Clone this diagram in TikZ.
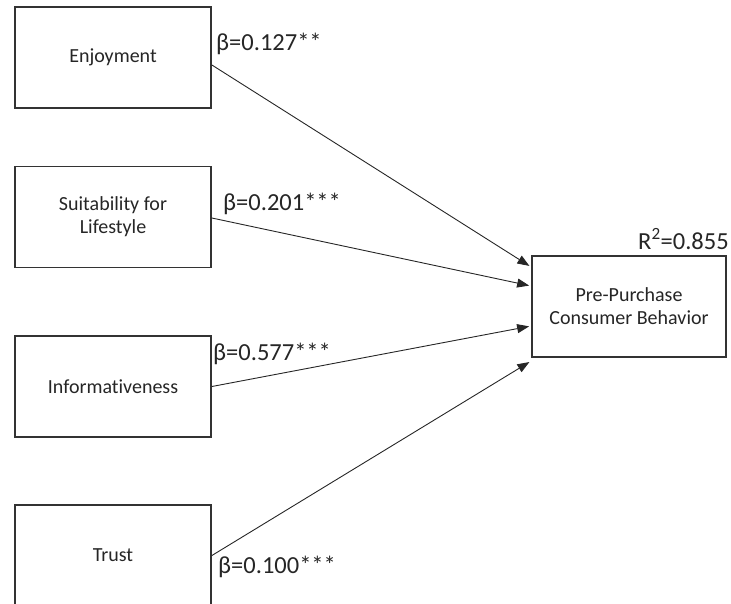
\documentclass[tikz,border=0pt]{standalone}
\usepackage{fontspec}
\setmainfont{Carlito}[Ligatures=NoCommon]
\usetikzlibrary{arrows.meta}
\definecolor{txt}{HTML}{262626}
\definecolor{edge}{HTML}{333333}
\begin{document}
\begin{tikzpicture}[x=1pt,y=-1pt,
  varbox/.style={draw=edge,line width=1.8pt,fill=white,minimum width=196pt,minimum height=101pt,
    align=center,text=txt,font=\fontsize{20}{23}\selectfont,inner sep=0pt},
  conn/.style={draw=txt,line width=0.9pt,shorten >=2pt,-{Triangle[length=12pt,width=9pt]}},
  coef/.style={text=txt,font=\fontsize{24.5}{28}\selectfont,inner sep=0pt,anchor=base west}]
\useasboundingbox (0,0) rectangle (731,603);
\node[varbox] (enj) at (113,57.5) {Enjoyment};
\node[varbox] (suit) at (113,217) {Suitability for\\Lifestyle};
\node[varbox] (info) at (113,386.5) {Informativeness};
\node[varbox] (trust) at (113,555.5) {Trust};
\node[varbox,minimum width=194pt] (ppcb) at (629,306.5) {Pre-Purchase\\Consumer Behavior};
\draw[conn] ([yshift=-7.5pt]enj.east) -- ([yshift=39.5pt]ppcb.west);
\draw[conn] ([yshift=-1pt]suit.east) -- ([yshift=20.5pt]ppcb.west);
\draw[conn] (info.east) -- ([yshift=-19.5pt]ppcb.west);
\draw[conn] (trust.east) -- ([yshift=-54.5pt]ppcb.west);
\node[coef] (l1) at (216,50) {β=0.127**};
\node[coef] (l2) at (223,210) {β=0.201***};
\node[coef] (l3) at (213,360) {β=0.577***};
\node[coef] (l4) at (218,573) {β=0.100***};
\node[coef] (r2) at (638,249) {R\textsuperscript{2}=0.855};
\end{tikzpicture}
\end{document}
